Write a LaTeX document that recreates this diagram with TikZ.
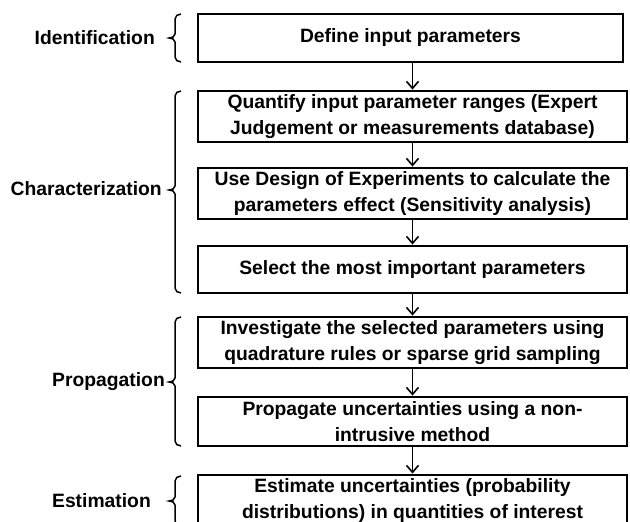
\documentclass[tikz,border=0pt]{standalone}
\usepackage{fontspec}
\setmainfont{Liberation Sans}
\usetikzlibrary{arrows.meta}
\begin{document}
\begin{tikzpicture}[x=1pt,y=-1pt,
 box/.style={draw,line width=2.8pt,minimum width=429pt,inner sep=0pt,align=center,font=\bfseries\fontsize{19.3}{25.5}\selectfont},
 lbl/.style={font=\bfseries\fontsize{19.3}{22}\selectfont,inner sep=0pt,anchor=east},
 arr/.style={line width=1.6pt,-{Straight Barb[length=7pt,width=12pt,line width=1.6pt]}},
 brc/.style={line width=1.5pt}]
\useasboundingbox (0,0) rectangle (630,522);
\clip (0,0) rectangle (630,522);
\node[box,minimum width=425pt,minimum height=48pt] (b1) at (410.5,38) {Define input parameters};
\node[box,minimum height=51pt] (b2) at (412.5,116.5) {Quantify input parameter ranges (Expert\\Judgement or measurements database)};
\node[box,minimum height=51pt] (b3) at (412.5,193.5) {Use Design of Experiments to calculate the\\parameters effect (Sensitivity analysis)};
\node[box,minimum height=47pt] (b4) at (412.5,269.5) {Select the most important parameters};
\node[box,minimum height=51pt] (b5) at (412.5,342.5) {Investigate the selected parameters using\\quadrature rules or sparse grid sampling};
\node[box,minimum height=49pt] (b6) at (412.5,421.5) {Propagate uncertainties using a non-\\intrusive method};
\node[box,minimum height=51pt] (b7) at (412.5,500.5) {Estimate uncertainties (probability\\distributions) in quantities of interest};
\draw[arr] (b1.south -| b2.north) -- (b2.north);
\draw[arr] (b2.south) -- (b3.north);
\draw[arr] (b3.south) -- (b4.north);
\draw[arr] (b4.south) -- (b5.north);
\draw[arr] (b5.south) -- (b6.north);
\draw[arr] (b6.south) -- (b7.north);
\node[lbl] (l1) at (155,38) {Identification};
\node[lbl] (l2) at (162,189) {Characterization};
\node[lbl] (l3) at (165,382) {Propagation};
\node[lbl] (l4) at (151,501) {Estimation};
\draw[brc] (181,14) to[out=180,in=90] (175,19) -- (175,34) to[out=-90,in=0] (169,38) to[out=0,in=90] (175,42) -- (175,57) to[out=-90,in=180] (181,62);
\draw[brc] (181,91) to[out=180,in=90] (175,96) -- (175,186) to[out=-90,in=0] (169,190) to[out=0,in=90] (175,194) -- (175,288) to[out=-90,in=180] (181,293);
\draw[brc] (181,317) to[out=180,in=90] (175,322) -- (175,378) to[out=-90,in=0] (169,382) to[out=0,in=90] (175,386) -- (175,441) to[out=-90,in=180] (181,446);
\draw[brc] (181,476) to[out=180,in=90] (175,481) -- (175,497) to[out=-90,in=0] (169,501) to[out=0,in=90] (175,505) -- (175,521) to[out=-90,in=180] (181,526);
\end{tikzpicture}
\end{document}
